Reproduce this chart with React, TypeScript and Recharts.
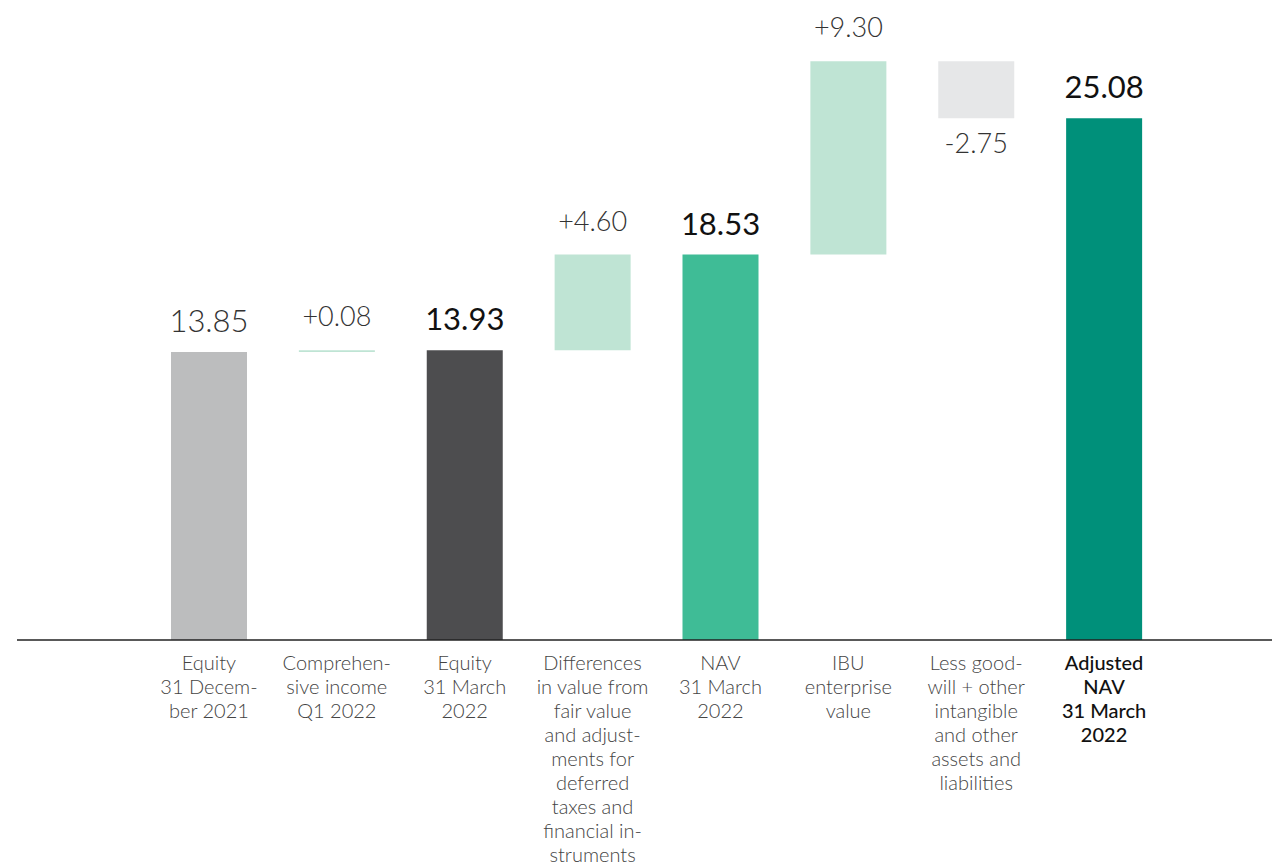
import React from 'react';
import { BarChart, Bar, XAxis, YAxis, Cell, LabelList } from 'recharts';

// Bridge from equity to adjusted NAV (per share)
const categories = [
  'Equity\n31 Decem-\nber 2021',
  'Comprehen-\nsive income\nQ1 2022',
  'Equity\n31 March\n2022',
  'Differences\nin value from\nfair value\nand adjust-\nments for\ndeferred\ntaxes and\nfinancial in-\nstruments',
  'NAV\n31 March\n2022',
  'IBU\nenterprise\nvalue',
  'Less good-\nwill + other\nintangible\nand other\nassets and\nliabilities',
  'Adjusted\nNAV\n31 March\n2022',
];
const amounts = [13.85, 0.08, 13.93, 4.6, 18.53, 9.3, -2.75, 25.08];
const kinds = ['total', 'delta', 'total', 'delta', 'total', 'delta', 'delta', 'total'];

const COLORS = ['#bcbdbe', '#bfe4d4', '#4d4d4f', '#bfe4d4', '#3fbc96', '#bfe4d4', '#e6e7e8', '#00907a'];
const STRONG = [false, false, true, false, true, false, false, true];

// running total -> [low, high] per bar
let running = 0;
const data = categories.map((name, i) => {
  const amount = amounts[i];
  let range: [number, number];
  if (kinds[i] === 'total') {
    range = [0, amount];
    running = amount;
  } else {
    const next = running + amount;
    range = [Math.min(running, next), Math.max(running, next)];
    running = next;
  }
  return { name, amount, range, index: i };
});

const formatAmount = (i: number) => {
  const v = amounts[i];
  if (kinds[i] === 'total') return v.toFixed(2);
  return (v >= 0 ? '+' : '-') + Math.abs(v).toFixed(2);
};

const ValueLabel = (props: any) => {
  const { x, y, width, height, index } = props;
  const cx = x + width / 2;
  const isTotal = kinds[index] === 'total';
  const size = isTotal ? 31 : 27;
  const strong = STRONG[index];
  if (amounts[index] < 0) {
    return (
      <text x={cx} y={y + height + 35} textAnchor="middle" fontSize={size} fontWeight={300} fill="#333">
        {formatAmount(index)}
      </text>
    );
  }
  return (
    <text
      x={cx}
      y={y - (isTotal ? 20 : 24)}
      textAnchor="middle"
      fontSize={size}
      fontWeight={strong ? 400 : 300}
      fill={strong ? '#111' : '#333'}
    >
      {formatAmount(index)}
    </text>
  );
};

const CategoryTick = (props: any) => {
  const { x, y, payload, index } = props;
  const lines = String(payload.value).split('\n');
  const bold = index === categories.length - 1;
  return (
    <text
      x={x}
      y={y}
      textAnchor="middle"
      fontSize={20}
      fontWeight={bold ? 500 : 300}
      fill={bold ? '#111' : '#444'}
    >
      {lines.map((line, i) => (
        <tspan key={i} x={x} dy={i === 0 ? 30 : 24}>
          {line}
        </tspan>
      ))}
    </text>
  );
};

const App: React.FC = () => {
  return (
    <div style={{ position: 'absolute', left: 0, top: 0, width: 1272, height: 862, background: '#fff', fontFamily: 'Lato, sans-serif' }}>
      <BarChart
        width={1272}
        height={862}
        data={data}
        margin={{ top: 16, right: 0, left: 17, bottom: 22 }}
        barSize={76}
      >
        <XAxis
          dataKey="name"
          height={200}
          interval={0}
          padding={{ left: 128, right: 104 }}
          tickLine={false}
          tickSize={0}
          tickMargin={0}
          axisLine={{ stroke: '#222', strokeWidth: 1.5 }}
          tick={<CategoryTick />}
        />
        <YAxis hide domain={[0, 30]} />
        <Bar dataKey="range" isAnimationActive={false}>
          {data.map((entry, index) => (
            <Cell key={`cell-${index}`} fill={COLORS[index]} />
          ))}
          <LabelList dataKey="amount" content={<ValueLabel />} />
        </Bar>
      </BarChart>
    </div>
  );
};

export default App;
